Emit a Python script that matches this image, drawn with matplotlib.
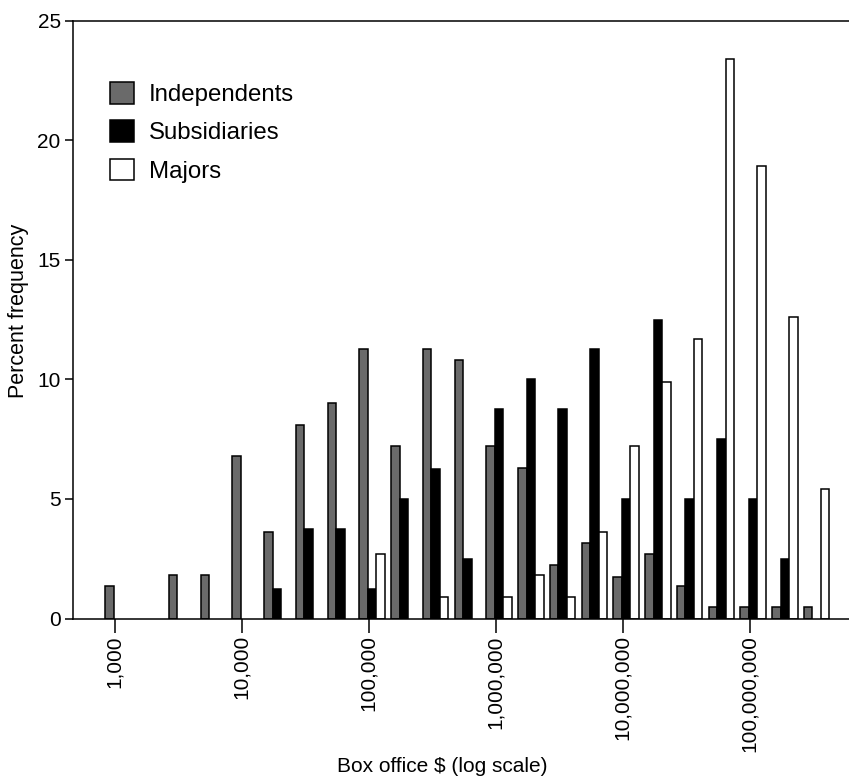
import numpy as np
import matplotlib
matplotlib.use("Agg")
from matplotlib import pyplot as plt

plt.rcParams['font.family'] = ['Liberation Sans', 'DejaVu Sans']

# lower edge of each quarter-decade bin, as log10(box office $)
bin_edges = [3.0, 3.25, 3.5, 3.75, 4.0, 4.25, 4.5, 4.75, 5.0, 5.25, 5.5, 5.75,
             6.0, 6.25, 6.5, 6.75, 7.0, 7.25, 7.5, 7.75, 8.0, 8.25, 8.5]

independents = [1.35, 0, 1.8, 1.8, 6.8, 3.6, 8.1, 9.0, 11.25, 7.2, 11.25, 10.8,
                7.2, 6.3, 2.25, 3.15, 1.75, 2.7, 1.35, 0.5, 0.5, 0.5, 0.5]
subsidiaries = [0, 0, 0, 0, 0, 1.25, 3.75, 3.75, 1.25, 5.0, 6.25, 2.5,
                8.75, 10.0, 8.75, 11.25, 5.0, 12.5, 5.0, 7.5, 5.0, 2.5, 0]
majors = [0, 0, 0, 0, 0, 0, 0, 0, 2.7, 0, 0.9, 0,
          0.9, 1.8, 0.9, 3.6, 7.2, 9.9, 11.7, 23.4, 18.9, 12.6, 5.4]

tick_pos = [3, 4, 5, 6, 7, 8]
tick_labels = ["1,000", "10,000", "100,000", "1,000,000", "10,000,000", "100,000,000"]

x = np.array(bin_edges) + 0.028
w = 0.067


def edges(vals):
    # no outline for empty bins
    return ['black' if v > 0 else 'none' for v in vals]


fig = plt.figure(figsize=(8.49, 7.76), dpi=100)
ax = fig.add_axes([72.5 / 849, 1 - 618.5 / 776, (849 - 72.5) / 849, 598 / 776])

ax.bar(x - w, independents, width=w, color='#6a6a6a', edgecolor=edges(independents), linewidth=1.1, label='Independents')
ax.bar(x, subsidiaries, width=w, color='black', edgecolor=edges(subsidiaries), linewidth=1.1, label='Subsidiaries')
ax.bar(x + w, majors, width=w, color='white', edgecolor=edges(majors), linewidth=1.1, label='Majors')

ax.set_xlim(2.669, 8.783)
ax.set_ylim(0, 25)
ax.set_xticks(tick_pos)
ax.set_xticklabels(tick_labels, rotation=90, fontsize=15)
ax.set_yticks([0, 5, 10, 15, 20, 25])
ax.tick_params(axis='y', labelsize=15, length=5.5, width=1.1, pad=3)
ax.tick_params(axis='x', length=10, width=1.1, pad=2)

ax.spines['right'].set_visible(False)
for s in ['left', 'top', 'bottom']:
    ax.spines[s].set_linewidth(1.1)

leg = ax.legend(loc='upper left', bbox_to_anchor=(0.0483, 0.897), frameon=False, fontsize=17.3,
                handlelength=1.0, handleheight=1.0, handletextpad=0.62, labelspacing=0.6,
                borderaxespad=0, borderpad=0)
for h in leg.legend_handles:
    h.set_edgecolor('black')

fig.text(442 / 849, 4 / 776, r"Box office \$ (log scale)", ha='center', va='baseline', fontsize=15)
fig.text(19 / 849, 1 - 311 / 776, "Percent frequency", ha='center', va='center', rotation=90, fontsize=15.5)

fig.savefig("out.png", dpi=100)
